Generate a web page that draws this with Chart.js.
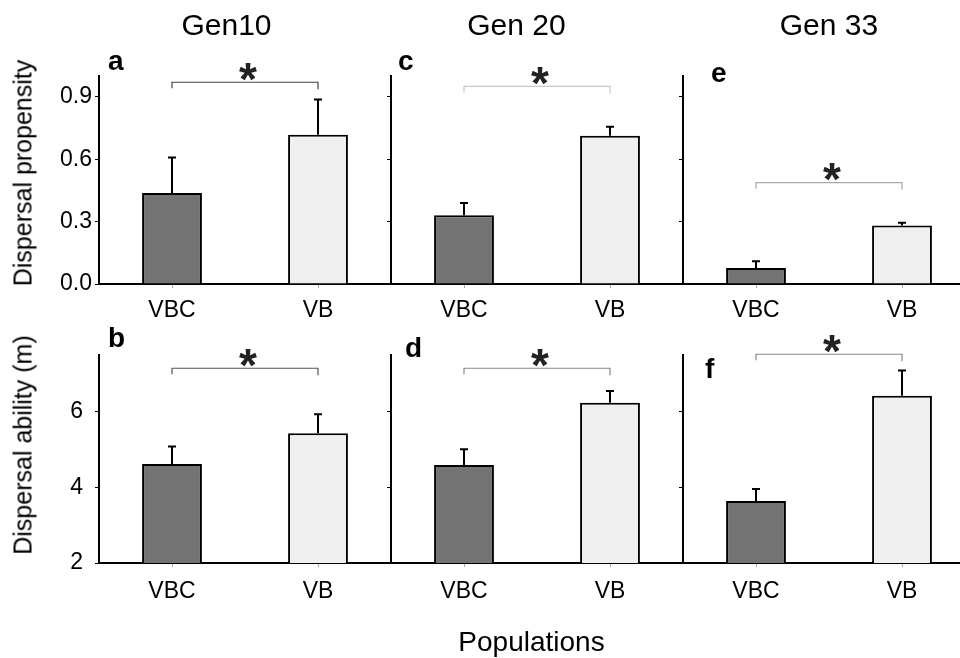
<!DOCTYPE html>
<html>
<head>
<meta charset="utf-8">
<script src="https://cdn.jsdelivr.net/npm/chart.js@4"></script>
<style>
  body { margin: 0; width: 960px; height: 658px; overflow: hidden; position: relative; background: #fff;
         font-family: "Liberation Sans", Arial, sans-serif; }
  canvas { position: absolute; }
  .lbl { position: absolute; color: #000; white-space: nowrap; }
</style>
</head>
<body>
<script>
const categories = ['VBC', 'VB'];
const generations = ['Gen10', 'Gen 20', 'Gen 33'];
const letters = [['a', 'c', 'e'], ['b', 'd', 'f']];

// dispersal propensity (top row), mean and error per generation
const propensityVBC = [0.438, 0.33, 0.077];
const propensityVB = [0.717, 0.713, 0.281];
const propensityErrVBC = [0.17, 0.06, 0.032];
const propensityErrVB = [0.17, 0.043, 0.013];
const propensityBracket = [0.97, 0.95, 0.487];
const propensityTicks = [0, 0.3, 0.6, 0.9];
const propensityRange = [0, 1.0];

// dispersal ability in m (bottom row)
const abilityVBC = [4.62, 4.59, 3.64];
const abilityVB = [5.43, 6.24, 6.42];
const abilityErrVBC = [0.46, 0.42, 0.32];
const abilityErrVB = [0.5, 0.31, 0.67];
const abilityBracket = [7.15, 7.15, 7.52];
const abilityTicks = [2, 4, 6];
const abilityRange = [2, 7.5];

const FONT = '"Liberation Sans", Arial, sans-serif';
const colAxisX = [99, 391, 683];
const colYW = [99, 20, 20];
const plotW = 292, plotH = 208, XH = 55;
const letterOff = [[[9, -6], [7, -6], [28, 6]], [[9, -8], [14, 2], [22, 23]]];
const bracketColors = [['#444', '#c8c8c8', '#a8a8a8'], ['#555', '#888', '#888']];

const rows = [
    { vbc: propensityVBC, vb: propensityVB, evbc: propensityErrVBC, evb: propensityErrVB,
      bracket: propensityBracket, ticks: propensityTicks, range: propensityRange,
      fmt: v => v.toFixed(1), top: 40, padTop: 36, tickPad: 3, xPad: 9,
      label: 'Dispersal propensity', labelY: 173 },
    { vbc: abilityVBC, vb: abilityVB, evbc: abilityErrVBC, evb: abilityErrVB,
      bracket: abilityBracket, ticks: abilityTicks, range: abilityRange,
      fmt: v => String(v), top: 320, padTop: 35, tickPad: 12, xPad: 11,
      label: 'Dispersal ability (m)', labelY: 445 }
];

function addText(txt, css) {
    let d = document.createElement('div');
    d.className = 'lbl';
    d.textContent = txt;
    Object.assign(d.style, css);
    document.body.appendChild(d);
}

function makeAnnot(cfg) {
    return {
        id: 'annot',
        afterDatasetsDraw(chart) {
            const ctx = chart.ctx, x = chart.scales.x, y = chart.scales.y;
            const meta = chart.getDatasetMeta(0);
            ctx.save();
            // error bars
            ctx.strokeStyle = '#000';
            ctx.lineWidth = 2;
            meta.data.forEach((bar, i) => {
                let top = y.getPixelForValue(cfg.mean[i] + cfg.err[i]);
                ctx.beginPath();
                ctx.moveTo(bar.x, bar.y);
                ctx.lineTo(bar.x, top);
                ctx.moveTo(bar.x - 4, top);
                ctx.lineTo(bar.x + 4, top);
                ctx.stroke();
            });
            // significance bracket
            let by = y.getPixelForValue(cfg.bracket);
            let x1 = x.getPixelForValue(0), x2 = x.getPixelForValue(1);
            ctx.strokeStyle = cfg.bracketColor;
            ctx.lineWidth = 1.2;
            ctx.beginPath();
            ctx.moveTo(x1, by + 6);
            ctx.lineTo(x1, by);
            ctx.lineTo(x2, by);
            ctx.lineTo(x2, by + 7);
            ctx.stroke();
            ctx.fillStyle = '#222';
            ctx.font = 'bold 46px ' + FONT;
            ctx.textAlign = 'center';
            ctx.textBaseline = 'alphabetic';
            ctx.fillText('*', (x1 + x2) / 2 + 3, by - 14 + 0.575 * 46);
            // panel letter
            ctx.fillStyle = '#000';
            ctx.font = 'bold 28px ' + FONT;
            ctx.textAlign = 'left';
            ctx.fillText(cfg.letter, chart.chartArea.left + cfg.off[0], chart.chartArea.top + cfg.off[1]);
            ctx.restore();
        }
    };
}

rows.forEach((row, r) => {
    for (let c = 0; c < 3; c++) {
        let cv = document.createElement('canvas');
        let w = colYW[c] + plotW, h = row.padTop + plotH + XH;
        cv.width = w;
        cv.height = h;
        cv.style.left = (colAxisX[c] - colYW[c]) + 'px';
        cv.style.top = row.top + 'px';
        cv.style.width = w + 'px';
        cv.style.height = h + 'px';
        document.body.appendChild(cv);

        let mean = [row.vbc[c], row.vb[c]];
        let err = [row.evbc[c], row.evb[c]];
        new Chart(cv, {
            type: 'bar',
            data: {
                labels: categories,
                datasets: [{
                    data: mean,
                    backgroundColor: ['#737373', '#efefef'],
                    borderColor: '#000',
                    borderWidth: 2,
                    barPercentage: 0.41,
                    categoryPercentage: 1
                }]
            },
            options: {
                responsive: false,
                animation: false,
                devicePixelRatio: 1,
                layout: { padding: { top: row.padTop, left: 0, right: 0, bottom: 0 } },
                plugins: { legend: { display: false }, tooltip: { enabled: false } },
                scales: {
                    x: {
                        offset: true,
                        afterFit: s => { s.height = XH; },
                        ticks: { color: '#000', font: { family: FONT, size: 23 }, padding: row.xPad },
                        grid: { offset: false, drawOnChartArea: false, drawTicks: true, tickLength: 4, color: '#aaa' },
                        border: { color: '#000', width: 2 }
                    },
                    y: {
                        min: row.range[0],
                        max: row.range[1],
                        afterFit: s => { s.width = colYW[c]; },
                        afterBuildTicks: s => { s.ticks = row.ticks.map(v => ({ value: v })); },
                        ticks: {
                            display: c === 0,
                            color: '#000',
                            font: { family: FONT, size: 23 },
                            padding: row.tickPad,
                            callback: v => row.fmt(v)
                        },
                        grid: { drawOnChartArea: false, drawTicks: true, tickLength: 4, color: '#000' },
                        border: { color: '#000', width: 2 }
                    }
                }
            },
            plugins: [makeAnnot({
                mean: mean, err: err, bracket: row.bracket[c],
                bracketColor: bracketColors[r][c], letter: letters[r][c], off: letterOff[r][c]
            })]
        });
    }
    addText(row.label, {
        left: '22.5px', top: row.labelY + 'px', fontSize: '25px', lineHeight: '25px',
        transform: 'translate(-50%, -50%) rotate(-90deg)'
    });
});

const titleX = [226.5, 516.5, 829];
generations.forEach((g, i) => {
    addText(g, { left: titleX[i] + 'px', top: '10px', fontSize: '30px', lineHeight: '30px',
                 transform: 'translateX(-50%)' });
});
addText('Populations', { left: '531.5px', top: '628px', fontSize: '28px', lineHeight: '28px',
                         transform: 'translateX(-50%)' });
</script>
</body>
</html>
